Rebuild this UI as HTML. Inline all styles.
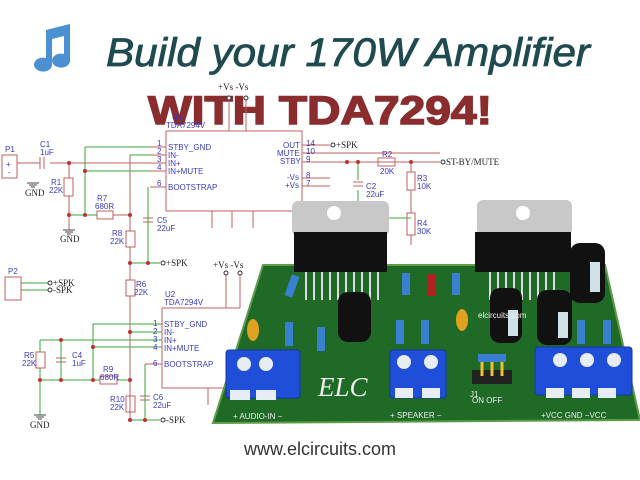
<!DOCTYPE html>
<html><head><meta charset="utf-8"><style>
html,body{margin:0;padding:0;background:#fff;}
svg{display:block}
.s{font-family:"Liberation Sans",sans-serif;font-size:8px;fill:#3a3ac8}
.g{font-family:"Liberation Serif",serif;font-size:9px;fill:#222}
</style></head><body>
<svg width="640" height="480" viewBox="0 0 640 480" xmlns="http://www.w3.org/2000/svg">
<rect width="640" height="480" fill="#fff"/>
<!-- music note -->
<g fill="#4a90d2">
<path d="M46 30 L70 24 L70 60 A9 7 0 1 1 64 54 L64 36 L52 39 L52 64 A9 7 0 1 1 46 58 Z"/>
</g>
<text x="106" y="66" font-family="Liberation Sans,sans-serif" font-style="italic" font-size="40" fill="#1f4b50" stroke="#1f4b50" stroke-width="0.8" textLength="484" lengthAdjust="spacingAndGlyphs">Build your 170W Amplifier</text>
<text x="148" y="124" font-family="Liberation Sans,sans-serif" font-weight="bold" font-size="40" fill="#8a2d2f" stroke="#8a2d2f" stroke-width="1.5" textLength="344" lengthAdjust="spacingAndGlyphs">WITH TDA7294!</text>

<!-- schematic U1 -->
<g stroke="#c06060" stroke-width="1" fill="none">
<rect x="166" y="131" width="136" height="80"/>
<rect x="2" y="155" width="15" height="23"/>
<path d="M150 147H166M150 155H166M150 163H166M150 171H166M150 187H166"/>
<path d="M302 145H330M302 153H440M302 162H440M302 178H330M302 186H330"/>
<path d="M229 100V131M246 100V131M212 211V228M232 211V228M253 211V228"/>
<path d="M17 163H40M50 163H150M69 163V178M69 196V230M69 215H97M113 215H130"/>
<path d="M130 155V231M130 247V280M130 296V420"/>
<rect x="64" y="178" width="9" height="18"/><rect x="97" y="211" width="16" height="8"/>
<rect x="126" y="231" width="9" height="16"/>
<path d="M40 157V169M44 157V169"/>
<path d="M143 218H153M143 222H153"/>
<rect x="378" y="158" width="17" height="8"/>
<rect x="407" y="172" width="8" height="18"/><rect x="407" y="213" width="8" height="22"/>
<path d="M411 162V172M411 190V213M411 235V245"/>
<path d="M353 182H363M353 186H363"/>
<path d="M162 308V388H240"/><path d="M162 308H240"/>
<rect x="5" y="277" width="16" height="23"/>
<rect x="126" y="280" width="9" height="16"/>
<rect x="36" y="352" width="9" height="16"/><rect x="100" y="376" width="17" height="8"/>
<rect x="126" y="396" width="9" height="16"/>
<path d="M56 358H66M56 362H66M140 396H150M140 400H150"/>
<path d="M226 275V308M240 275V308M208 388V405"/>
<path d="M145 364H162"/>
</g>
<g stroke="#3aa63a" stroke-width="1" fill="none">
<path d="M85 147H150M85 147V215M85 171H150M130 155H150M69 215H97M148 187V263M130 263H160"/>
<path d="M93 324H162M93 324V380M40 340H162M40 340V352M61 340V380M40 368V415M40 380H100M117 380H130M93 347H162M130 332H162M145 364V420M130 420H160"/>
<path d="M21 283H48M21 290H48M358 162V180M358 190V205M411 218H385V240"/>
</g>
<g fill="#c03030">
<circle cx="69" cy="163" r="2"/><circle cx="69" cy="215" r="2"/><circle cx="85" cy="171" r="2"/><circle cx="85" cy="215" r="2"/>
<circle cx="130" cy="215" r="2"/><circle cx="130" cy="263" r="2"/><circle cx="148" cy="263" r="2"/>
<circle cx="347" cy="162" r="2"/><circle cx="358" cy="162" r="2"/><circle cx="411" cy="162" r="2"/>
<circle cx="130" cy="332" r="2"/><circle cx="61" cy="340" r="2"/><circle cx="93" cy="347" r="2"/><circle cx="40" cy="380" r="2"/><circle cx="61" cy="380" r="2"/><circle cx="93" cy="380" r="2"/><circle cx="130" cy="380" r="2"/><circle cx="130" cy="420" r="2"/><circle cx="145" cy="420" r="2"/>
</g>
<g fill="#fff" stroke="#333"><circle cx="229" cy="98" r="2"/><circle cx="246" cy="98" r="2"/><circle cx="226" cy="273" r="2"/><circle cx="240" cy="273" r="2"/><circle cx="163" cy="263" r="2"/><circle cx="333" cy="145" r="2"/><circle cx="443" cy="162" r="2"/><circle cx="50" cy="283" r="2"/><circle cx="50" cy="290" r="2"/><circle cx="163" cy="420" r="2"/></g>
<g stroke="#444" fill="none"><path d="M27 183H39M29 185H37M31 187H35M63 230H75M65 232H73M67 234H71M34 415H46M36 417H44M38 419H42"/></g>
<g class="s">
<text x="168" y="150">STBY_GND</text><text x="168" y="158">IN-</text><text x="168" y="166">IN+</text><text x="168" y="174">IN+MUTE</text><text x="168" y="190">BOOTSTRAP</text>
<text x="157" y="146">1</text><text x="157" y="154">2</text><text x="157" y="162">3</text><text x="157" y="170">4</text><text x="157" y="186">6</text>
<text x="166" y="128">TDA7294V</text><text x="172" y="120">U1</text>
<text x="283" y="148">OUT</text><text x="277" y="156">MUTE</text><text x="280" y="164">STBY</text><text x="287" y="180">-Vs</text><text x="285" y="188">+Vs</text>
<text x="306" y="146">14</text><text x="306" y="154">10</text><text x="306" y="162">9</text><text x="306" y="178">8</text><text x="306" y="186">7</text>
<text x="40" y="147">C1</text><text x="40" y="155">1uF</text><text x="51" y="185">R1</text><text x="49" y="193">22K</text>
<text x="97" y="201">R7</text><text x="95" y="209">680R</text><text x="112" y="236">R8</text><text x="110" y="244">22K</text>
<text x="157" y="223">C5</text><text x="157" y="231">22uF</text>
<text x="5" y="152">P1</text><text x="6" y="167">+</text><text x="8" y="175">-</text>
<text x="382" y="157">R2</text><text x="380" y="174">20K</text><text x="417" y="181">R3</text><text x="417" y="189">10K</text>
<text x="417" y="226">R4</text><text x="417" y="234">30K</text><text x="366" y="189">C2</text><text x="366" y="197">22uF</text>
<text x="8" y="274">P2</text>
<text x="165" y="297">U2</text><text x="164" y="305">TDA7294V</text>
<text x="164" y="327">STBY_GND</text><text x="164" y="335">IN-</text><text x="164" y="343">IN+</text><text x="164" y="351">IN+MUTE</text><text x="164" y="367">BOOTSTRAP</text>
<text x="153" y="326">1</text><text x="153" y="334">2</text><text x="153" y="342">3</text><text x="153" y="350">4</text><text x="153" y="366">6</text>
<text x="136" y="287">R6</text><text x="134" y="295">22K</text><text x="24" y="358">R5</text><text x="22" y="366">22K</text>
<text x="72" y="358">C4</text><text x="72" y="366">1uF</text><text x="103" y="372">R9</text><text x="100" y="380">680R</text>
<text x="110" y="402">R10</text><text x="110" y="410">22K</text><text x="153" y="400">C6</text><text x="153" y="408">22uF</text>
</g>
<g class="g"><text x="218" y="90">+Vs -Vs</text><text x="213" y="268">+Vs -Vs</text><text x="25" y="196">GND</text><text x="60" y="242">GND</text><text x="30" y="428">GND</text>
<text x="166" y="266">+SPK</text><text x="336" y="148">+SPK</text><text x="446" y="165">ST-BY/MUTE</text><text x="53" y="286">+SPK</text><text x="53" y="293">-SPK</text><text x="166" y="423">-SPK</text></g>

<!-- PCB -->
<polygon points="263,265 605,265 640,420 213,423" fill="#1f6a26" stroke="#5d9d4a" stroke-width="2"/>
<g fill="#c8c8c8"><rect x="292" y="201" width="97" height="35" rx="6"/><rect x="477" y="200" width="95" height="35" rx="6"/></g>
<g fill="#fff"><circle cx="334" cy="213" r="7"/><circle cx="523" cy="213" r="7"/></g>
<g fill="#111"><rect x="294" y="232" width="93" height="40"/><rect x="475" y="232" width="96" height="40"/></g>
<g stroke="#ddd" stroke-width="2"><path d="M306 272V300M314 272V300M322 272V300M330 272V300M338 272V300M346 272V300M354 272V300M362 272V300M370 272V300M378 272V300"/><path d="M490 272V300M498 272V300M506 272V300M514 272V300M522 272V300M530 272V300M538 272V300M546 272V300M554 272V300"/></g>
<g fill="#111"><rect x="338" y="292" width="33" height="50" rx="10"/><rect x="490" y="288" width="32" height="55" rx="10"/><rect x="537" y="290" width="35" height="55" rx="10"/><rect x="570" y="243" width="35" height="60" rx="10"/></g>
<g fill="#cfe0e6"><rect x="508" y="310" width="10" height="26"/><rect x="558" y="312" width="10" height="26"/><rect x="590" y="262" width="10" height="30"/></g>
<g fill="#3b7fd0"><rect x="288" y="275" width="8" height="22" transform="rotate(20 292 286)"/><rect x="285" y="322" width="8" height="24"/><rect x="317" y="327" width="8" height="24"/><rect x="396" y="320" width="8" height="24"/><rect x="421" y="320" width="8" height="24"/><rect x="402" y="273" width="8" height="22"/><rect x="452" y="273" width="8" height="22"/><rect x="577" y="320" width="8" height="24"/><rect x="603" y="320" width="8" height="24"/><rect x="478" y="354" width="28" height="8"/></g>
<rect x="427" y="274" width="8" height="22" fill="#b02020"/>
<g fill="#e0a020"><ellipse cx="253" cy="330" rx="6" ry="11"/><ellipse cx="462" cy="320" rx="6" ry="11"/></g>
<g fill="#1f4fd8" stroke="#123aa0"><rect x="226" y="350" width="74" height="48" rx="3"/><rect x="390" y="350" width="56" height="48" rx="3"/><rect x="535" y="347" width="97" height="48" rx="3"/></g>
<g fill="#e8ecf4"><circle cx="244" cy="364" r="7"/><circle cx="266" cy="364" r="7"/><circle cx="404" cy="362" r="7"/><circle cx="431" cy="362" r="7"/><circle cx="560" cy="360" r="7"/><circle cx="587" cy="360" r="7"/><circle cx="614" cy="360" r="7"/>
<rect x="230" y="390" width="20" height="10"/><rect x="256" y="390" width="20" height="10"/><rect x="395" y="388" width="18" height="10"/><rect x="422" y="388" width="18" height="10"/><rect x="546" y="388" width="18" height="10"/><rect x="572" y="388" width="18" height="10"/><rect x="598" y="388" width="18" height="10"/></g>
<rect x="472" y="370" width="40" height="14" fill="#222"/>
<g stroke="#f0c030" stroke-width="3"><path d="M482 362V376M492 362V376M502 362V376"/></g>
<text x="318" y="396" font-family="Liberation Serif,serif" font-style="italic" font-size="27" fill="#eee">ELC</text>
<g font-family="Liberation Sans,sans-serif" font-size="8" fill="#eee">
<text x="233" y="419">+ AUDIO-IN −</text><text x="390" y="418">+ SPEAKER −</text><text x="541" y="418">+VCC  GND  −VCC</text><text x="472" y="403">ON  OFF</text><text x="478" y="318">elcircuits.com</text><text x="470" y="397">J1</text></g>

<text x="320" y="455" text-anchor="middle" font-family="Liberation Sans,sans-serif" font-size="18" fill="#333">www.elcircuits.com</text>
</svg>
</body></html>
